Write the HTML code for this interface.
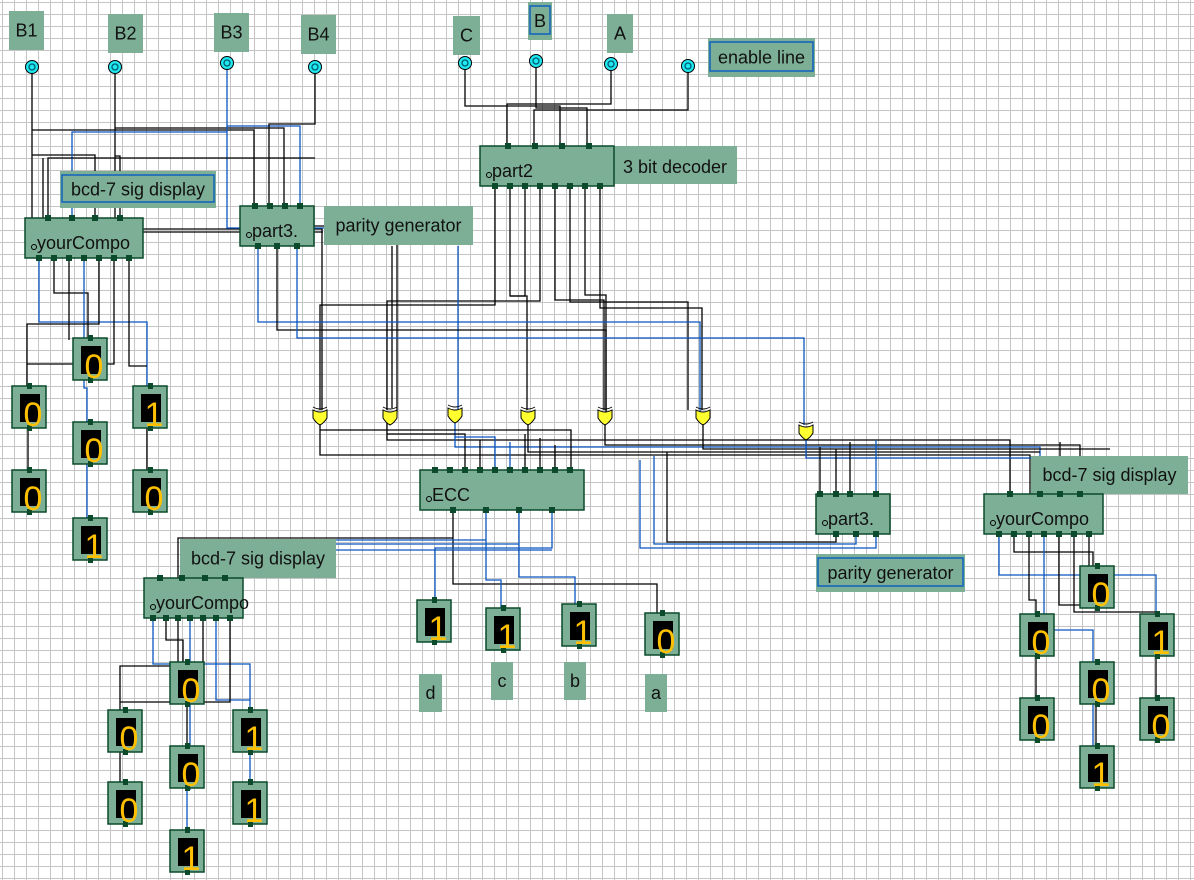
<!DOCTYPE html>
<html><head><meta charset="utf-8"><style>
html,body{margin:0;padding:0;background:#fff;}
body{width:1194px;height:880px;overflow:hidden;}
svg{position:absolute;left:0;top:0;}
text{font-family:"Liberation Sans","DejaVu Sans",sans-serif;}
</style></head><body>
<svg id="s" width="1194" height="880" xmlns="http://www.w3.org/2000/svg"></svg>
<script>
var s=document.getElementById('s');var out='';
out+='<defs><pattern id="g" x="2" y="2" width="12" height="12" patternUnits="userSpaceOnUse"><path d="M0 0.5 H12 M0.5 0 V12" stroke="#c4c4c4" stroke-width="1" fill="none"/></pattern></defs><rect width="1194" height="880" fill="url(#g)"/>';
var G='#7daf97',D='#0b4a2a';
function rect(x,y,w,h,f,st){out+='<rect x="'+x+'" y="'+y+'" width="'+w+'" height="'+h+'" fill="'+f+'"'+(st?' stroke="'+st+'" stroke-width="1.5"':'')+'/>';}
function txt(x,y,t,sz,c,anc){out+='<text x="'+x+'" y="'+y+'" font-size="'+sz+'" fill="'+(c||'#111')+'"'+(anc?' text-anchor="'+anc+'"':'')+'>'+t+'</text>';}
function label(x,y,w,h,t,blue){rect(x,y,w,h,G);if(blue)out+='<rect x="'+(x+2)+'" y="'+(y+4)+'" width="'+(w-4)+'" height="'+(h-10)+'" fill="none" stroke="#1060c0" stroke-width="1.5"/>';txt(x+w/2,y+h/2+6,t,18,'#111','middle');}
function pin(x,y,r){out+='<circle cx="'+x+'" cy="'+y+'" r="6.5" fill="#1ee8f0" stroke="#000"/><circle cx="'+x+'" cy="'+y+'" r="3" fill="none" stroke="#005a70" stroke-width="1.3"/>';}
function w(pts,c){out+='<polyline points="'+pts+'" fill="none" stroke="'+(c?'#0b55c0':'#000')+'" stroke-width="1.3"/>';}
function comp(x,y,wd,h,t,top,bot){rect(x,y,wd,h,G,D);top.forEach(function(p){rect(p-3,y-3,6,6,D);});bot.forEach(function(p){rect(p-3,y+h-3,6,6,D);});
 txt(x+12,y+h-9,t,18,'#111');out+='<circle cx="'+(x+9)+'" cy="'+(y+h-11)+'" r="2.5" fill="none" stroke="#000"/>';}
function disp(x,y,d){rect(x,y,34,42,G,D);rect(x+8,y+8,20,28,'#000');rect(x+15,y-3,5,6,D);rect(x+15,y+39,5,6,D);
 txt(x+21,y+40,d,34,'#ffc000','middle');}
function xor(x,y){out+='<path d="M'+(x-7)+' '+y+' Q'+x+' '+(y+4)+' '+(x+7)+' '+y+' L'+(x+7)+' '+(y+8)+' Q'+(x+4)+' '+(y+13)+' '+x+' '+(y+15)+' Q'+(x-4)+' '+(y+13)+' '+(x-7)+' '+(y+8)+' Z" fill="#ffff30" stroke="#000" stroke-width="1"/><path d="M'+(x-7)+' '+(y-3)+' Q'+x+' '+(y+1)+' '+(x+7)+' '+(y-3)+'" fill="none" stroke="#000"/>';}

w('32,72 32,232 323,232');w('32,130 254,130 254,206');w('32,155 95,155 95,218');
w('115,72 115,229 322,229 322,410');w('115,128 284,128 284,206');w('115,156 120,156 120,218');
w('227,68 227,228 315,228 470,228',1);w('227,126 300,126 300,206',1);w('227,132 72,132 72,218',1);
w('315,72 315,124 269,124 269,206');w('315,158 48,158 48,218');
w('43,158 43,233');w('268,226 397,226 397,412');
w('465,68 465,106 560,106 560,146');w('536,66 536,108 587,108 587,146');w('611,68 611,104 507,104 507,146');w('688,70 688,110 534,110 534,146');
w('495,186 495,305 320,305 320,410');w('510,186 510,296 527,296 527,410');w('525,186 525,296 510,296');w('540,186 540,301 387,301 387,410');
w('555,186 555,300 604,300 604,410');w('570,186 570,302 688,302 688,410');w('585,186 585,295 606,295 606,410');w('600,186 600,308 702,308 702,410');
w('458,246 458,412',1);w('392,246 392,408');
w('258,246 258,322 700,322 700,412',1);w('277,246 277,330 606,330 606,412');w('297,246 297,338 804,338 804,425',1);
w('39,258 39,322 147,322 147,386',1);w('54,258 54,293 88,293 88,338');w('69,258 69,340');w('84,258 84,388 87,388 87,518',1);
w('99,258 99,324 27,324 27,386');w('114,258 114,364 27,364');w('129,258 129,366 147,366');
w('28,428 28,470');w('147,428 147,470');
w('320,425 320,455 1030,455 1030,494');w('387,423 387,440 1010,440 1010,494');w('455,422 455,447 1040,447 1040,494',1);
w('528,424 528,452 1040,452');w('605,424 605,445 1080,445 1080,494');w('703,424 703,449 1110,449');w('806,440 806,458 1120,458 1120,494',1);
w('320,430 571,430 571,470');w('387,434 465,434 465,470');w('455,437 495,437 495,470',1);w('480,440 480,470');
w('510,442 510,470',1);w('540,438 540,470');w('555,445 555,470');w('525,434 525,470');
w('640,460 640,548 876,548 876,534',1);w('654,456 654,544 856,544 856,534',1);w('667,452 667,542 836,542 836,534');
w('820,447 820,494');w('836,449 836,494');w('850,442 850,494');w('876,440 876,494',1);
w('1060,442 1060,494');
w('453,510 453,584 657,584 657,613');w('453,538 178,538 178,578');w('486,510 486,580 501,580 501,608',1);
w('519,510 519,577 575,577 575,604',1);w('552,510 552,548 435,548 435,600',1);w('486,540 222,540 222,578',1);w('519,544 205,544 205,578',1);w('552,550 242,550 242,578',1);
w('153,618 153,664 250,664 250,710',1);w('166,618 166,640 183,640 183,662');w('178,618 178,662');w('190,618 190,790',1);
w('203,618 203,666 120,666 120,710');w('216,618 216,700 250,700',1);w('230,618 230,702 120,702');
w('120,752 120,782');w('250,752 250,782',1);w('187,704 187,746');w('187,788 187,830',1);
w('999,534 999,575 1156,575 1156,614',1);w('1014,534 1014,552 1093,552 1093,566');w('1029,534 1029,600 1036,600 1036,614');w('1044,534 1044,630 1093,630 1093,746',1);
w('1059,534 1059,605 1096,605');w('1074,534 1074,612 1156,612');w('1089,534 1089,588');
w('1036,656 1036,698');w('1156,656 1156,698');w('1096,704 1096,746');

label(9,11,35,39,'B1');label(108,14,35,39,'B2');label(214,13,35,39,'B3');label(301,15,35,39,'B4');
pin(32,67);pin(115,67);pin(227,63);pin(315,67);
label(453,16,27,39,'C');label(528,2,24,38,'B',1);label(607,14,26,39,'A');label(708,38,107,39,'enable line',1);
pin(465,63);pin(536,61);pin(611,64);pin(688,66);
rect(480,146,257,38,G);comp(480,146,134,40,'part2',[508,535,562,589],[495,510,525,540,555,570,585,600]);
txt(675,173,'3 bit decoder',18,'#111','middle');
label(60,171,156,37,'bcd-7 sig display',1);
comp(25,218,118,40,'yourCompo',[48,72,95,120],[39,54,69,84,99,114,129]);
comp(240,206,74,40,'part3.',[255,270,285,300],[258,277,297]);
label(324,206,149,39,'parity generator');
disp(73,338,'0');disp(12,386,'0');disp(133,386,'1');disp(73,422,'0');disp(12,470,'0');disp(133,470,'0');disp(73,518,'1');
[[320,410],[390,410],[455,408],[528,410],[605,410],[703,410],[806,425]].forEach(function(p){xor(p[0],p[1]);});
comp(420,470,164,40,'ECC',[435,450,465,480,495,510,525,540,555,570],[453,486,519,552]);
comp(816,494,74,40,'part3.',[820,836,850,876],[836,856,876]);
label(816,554,149,38,'parity generator',1);
label(1031,456,157,38,'bcd-7 sig display');
comp(984,494,119,40,'yourCompo',[1010,1040,1060,1080],[999,1014,1029,1044,1059,1074,1089]);
disp(1080,566,'0');disp(1020,614,'0');disp(1140,614,'1');disp(1080,662,'0');disp(1020,698,'0');disp(1140,698,'0');disp(1080,746,'1');
label(180,539,156,39,'bcd-7 sig display');
comp(144,578,99,40,'yourCompo',[160,182,205,225],[153,166,178,190,203,216,230]);
disp(170,662,'0');disp(108,710,'0');disp(233,710,'1');disp(170,746,'0');disp(108,782,'0');disp(233,782,'1');disp(170,830,'1');
disp(417,600,'1');disp(486,608,'1');disp(562,604,'1');disp(645,613,'0');
label(419,674,23,38,'d');label(491,662,22,38,'c');label(564,662,22,38,'b');label(645,674,22,38,'a');
s.innerHTML=out;
</script>
</body></html>
